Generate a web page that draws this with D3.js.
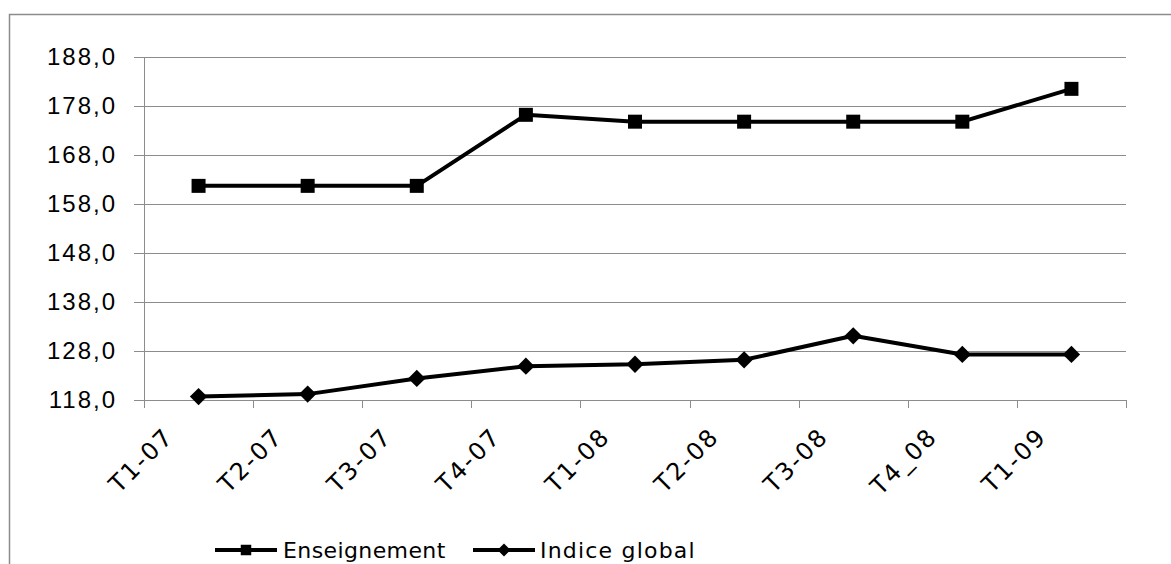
<!DOCTYPE html>
<html>
<head>
<meta charset="utf-8">
<script src="https://cdn.jsdelivr.net/npm/d3@7"></script>
<style>
  body { margin: 0; background: #fff; }
  svg { display: block; font-family: "DejaVu Sans", Verdana, sans-serif; }
</style>
</head>
<body>
<div id="chart"></div>
<script>

// data
let categories = ["T1-07", "T2-07", "T3-07", "T4-07", "T1-08", "T2-08", "T3-08", "T4_08", "T1-09"];
let enseignement = [161.7, 161.7, 161.7, 176.2, 174.8, 174.8, 174.8, 174.8, 181.5];
let indiceGlobal = [118.7, 119.2, 122.4, 124.9, 125.3, 126.2, 131.1, 127.3, 127.3];
let yTicks = [118, 128, 138, 148, 158, 168, 178, 188];

let svgWidth = 1171, svgHeight = 564;
let plot = {left: 144, right: 1126, top: 57, bottom: 400};

let svg = d3.select("#chart").append("svg")
    .attr("width", svgWidth)
    .attr("height", svgHeight);

// outer chart border (runs off the right and bottom)
svg.append("rect")
    .attr("x", 9.5).attr("y", 14.5)
    .attr("width", svgWidth + 20).attr("height", svgHeight + 20)
    .attr("fill", "none")
    .attr("stroke", "#8c8c8c")
    .attr("stroke-width", 1.5);

let x = d3.scaleBand().domain(categories).range([plot.left, plot.right]).paddingInner(0).paddingOuter(0);
let y = d3.scaleLinear().domain([118, 188]).range([plot.bottom, plot.top]);

let fmt = d => d3.format(".1f")(d).replace(".", ",");

// y axis with gridlines
let yAxis = svg.append("g")
    .attr("transform", "translate(" + plot.left + ",0)")
    .call(d3.axisLeft(y).tickValues(yTicks).tickFormat(fmt)
        .tickSize(10).tickPadding(17));
yAxis.select(".domain").remove();
yAxis.selectAll(".tick line").attr("stroke", "#8c8c8c");
yAxis.selectAll(".tick").append("line")
    .attr("x1", 0).attr("x2", plot.right - plot.left)
    .attr("stroke", "#8c8c8c");
yAxis.selectAll("text")
    .attr("font-size", "24px")
    .attr("letter-spacing", "2px")
    .attr("fill", "#000");

svg.append("line")
    .attr("x1", plot.left + 0.5).attr("x2", plot.left + 0.5)
    .attr("y1", plot.top).attr("y2", plot.bottom)
    .attr("stroke", "#8c8c8c");

// x axis: ticks on the category boundaries
let bounds = categories.map(c => x(c)).concat([plot.right]);
svg.selectAll(".xtick")
    .data(bounds)
    .enter().append("line")
    .attr("class", "xtick")
    .attr("x1", d => Math.round(d) + 0.5).attr("x2", d => Math.round(d) + 0.5)
    .attr("y1", plot.bottom).attr("y2", plot.bottom + 8)
    .attr("stroke", "#8c8c8c");

svg.selectAll(".xlabel")
    .data(categories)
    .enter().append("text")
    .attr("class", "xlabel")
    .attr("transform", d => "translate(" + (x(d) + 31) + "," + (plot.bottom + 38) + ") rotate(-45)")
    .attr("text-anchor", "end")
    .attr("font-size", "24px")
    .attr("letter-spacing", "2px")
    .text(d => d);

// series
let line = d3.line()
    .x((d, i) => x(categories[i]) + x.bandwidth() / 2)
    .y(d => y(d));

let series = [
    {name: "Enseignement", values: enseignement, marker: d3.symbolSquare, size: 196, rot: 0, legendSize: 110},
    {name: "Indice global", values: indiceGlobal, marker: d3.symbolSquare, size: 150, rot: 45, legendSize: 85}
];

series.forEach(function(s) {
    svg.append("path")
        .datum(s.values)
        .attr("fill", "none")
        .attr("stroke", "#000")
        .attr("stroke-width", 4)
        .attr("stroke-linejoin", "round")
        .attr("d", line);

    svg.selectAll(null)
        .data(s.values)
        .enter().append("path")
        .attr("d", d3.symbol().type(s.marker).size(s.size))
        .attr("transform", (d, i) => "translate(" + (x(categories[i]) + x.bandwidth() / 2) + "," + y(d) + ") rotate(" + s.rot + ")")
        .attr("fill", "#000");
});

// legend
let legendItems = [
    {x: 215, textX: 283},
    {x: 473, textX: 540}
];
series.forEach(function(s, i) {
    let g = svg.append("g");
    let ly = 550;
    g.append("line")
        .attr("x1", legendItems[i].x).attr("x2", legendItems[i].x + 62)
        .attr("y1", ly).attr("y2", ly)
        .attr("stroke", "#000").attr("stroke-width", 4);
    g.append("path")
        .attr("d", d3.symbol().type(s.marker).size(s.legendSize))
        .attr("transform", "translate(" + (legendItems[i].x + 31) + "," + ly + ") rotate(" + s.rot + ")");
    g.append("text")
        .attr("x", legendItems[i].textX)
        .attr("y", ly + 8)
        .attr("font-size", "22px")
        .attr("letter-spacing", i == 0 ? "0.4px" : "1.2px")
        .text(s.name);
});

</script>
</body>
</html>
